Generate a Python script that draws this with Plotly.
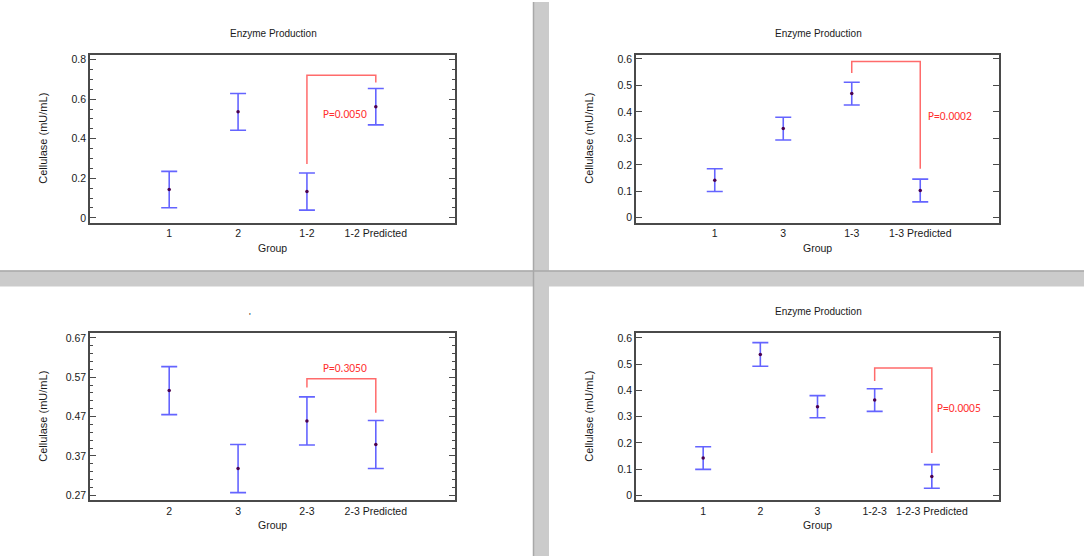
import plotly.graph_objects as go

W, H = 1084, 557

# panel data
tl_groups = ["1", "2", "1-2", "1-2 Predicted"]
tl_means = [0.143, 0.536, 0.133, 0.562]
tl_errors = [0.092, 0.093, 0.094, 0.092]
tl_bracket_y = [0.272, 0.721, 0.721, 0.684]
tl_p = "P=0.0050"

tr_groups = ["1", "3", "1-3", "1-3 Predicted"]
tr_means = [0.142, 0.337, 0.469, 0.103]
tr_errors = [0.043, 0.043, 0.043, 0.043]
tr_bracket_y = [0.547, 0.590, 0.590, 0.185]
tr_p = "P=0.0002"

bl_groups = ["2", "3", "2-3", "2-3 Predicted"]
bl_means = [0.536, 0.338, 0.459, 0.399]
bl_errors = [0.061, 0.061, 0.061, 0.061]
bl_bracket_y = [0.544, 0.566, 0.566, 0.480]
bl_p = "P=0.3050"

br_groups = ["1", "2", "3", "1-2-3", "1-2-3 Predicted"]
br_means = [0.142, 0.537, 0.338, 0.363, 0.072]
br_errors = [0.043, 0.045, 0.042, 0.043, 0.045]
br_bracket_y = [0.436, 0.485, 0.485, 0.161]
br_p = "P=0.0005"

title = "Enzyme Production"
y_title = "Cellulase (mU/mL)"
x_title = "Group"

FONT = "Liberation Sans Narrow, Arial Narrow, Liberation Sans, Arial"
PFONT = "Carlito, Lato, Open Sans, sans-serif"
AXIS_COL = "#4a4a4a"
ERR_COL = "#6464ff"
DOT_COL = "#4a0050"
RED_LINE = "#ff6b6b"
RED_TXT = "#ff3030"
TXT = "#1a1a1a"


def px(x):
    return x / W


def py(y):
    return 1 - y / H


def label(text, x, y, size, angle=0, color=TXT, family=FONT):
    fig.add_annotation(x=px(x), y=py(y), xref="paper", yref="paper", text=text,
                       showarrow=False, textangle=angle, xanchor="center", yanchor="middle",
                       font=dict(family=family, size=size, color=color))


fig = go.Figure()

panels = [
    # groups, means, errors, bracket, p text, p pos (cat index, y), box px, y axis setup
    (tl_groups, tl_means, tl_errors, tl_bracket_y, tl_p, (2.55, 0.527),
     (90, 455, 53, 222), dict(range=[-0.025, 0.825], dtick=0.2, tick0=0,
                              minor=dict(dtick=0.05, tick0=0, ticks="inside", ticklen=3,
                                         tickcolor=AXIS_COL))),
    (tr_groups, tr_means, tr_errors, tr_bracket_y, tr_p, (3.44, 0.386),
     (636, 999, 53, 222), dict(range=[-0.019, 0.616], dtick=0.1, tick0=0)),
    (bl_groups, bl_means, bl_errors, bl_bracket_y, bl_p, (2.556, 0.594),
     (90, 455, 333, 501), dict(range=[0.2574, 0.6818], dtick=0.1, tick0=0.27, tickformat=".2f",
                                minor=dict(dtick=0.02, tick0=0.27, ticks="inside", ticklen=3,
                                           tickcolor=AXIS_COL))),
    (br_groups, br_means, br_errors, br_bracket_y, br_p, (4.478, 0.3315),
     (636, 999, 333, 501), dict(range=[-0.019, 0.618], dtick=0.1, tick0=0)),
]

for i, (groups, means, errors, bracket, ptxt, ppos, box, yset) in enumerate(panels):
    n = i + 1
    xa = "x" if n == 1 else "x%d" % n
    ya = "y" if n == 1 else "y%d" % n
    pad = 1.15 if len(groups) == 4 else 1.175
    x0, x1, y0, y1 = box

    fig.add_trace(go.Scatter(
        x=groups, y=means, mode="markers", xaxis=xa, yaxis=ya,
        marker=dict(color=DOT_COL, size=3.5),
        error_y=dict(type="data", array=errors, visible=True, color=ERR_COL,
                     thickness=1.6, width=8),
        showlegend=False, hoverinfo="x+y"))

    fig.add_trace(go.Scatter(
        x=[groups[-2], groups[-2], groups[-1], groups[-1]], y=bracket,
        mode="lines", xaxis=xa, yaxis=ya, line=dict(color=RED_LINE, width=1.5),
        showlegend=False, hoverinfo="skip"))

    fig.add_annotation(x=ppos[0], y=ppos[1], xref=xa, yref=ya, text=ptxt,
                       showarrow=False, xanchor="center", yanchor="middle",
                       font=dict(family=PFONT, size=11.5, color=RED_TXT))

    fig.layout["xaxis" if n == 1 else "xaxis%d" % n] = dict(
        domain=[px(x0), px(x1)], anchor=ya, type="category",
        range=[-pad, len(groups) - 1 + pad], showline=True, mirror=True,
        linecolor=AXIS_COL, linewidth=1.5, ticks="", showgrid=False, zeroline=False,
        tickangle=0, tickfont=dict(family=FONT, size=10.5, color=TXT), fixedrange=True)

    yaxis = dict(domain=[py(y1), py(y0)], anchor=xa, showline=True, mirror="ticks",
                 linecolor=AXIS_COL, linewidth=1.5, ticks="inside", ticklen=6,
                 tickcolor=AXIS_COL, tickwidth=1.2, showgrid=False, zeroline=False,
                 tickfont=dict(family=FONT, size=10.5, color=TXT), fixedrange=True)
    yaxis.update(yset)
    fig.layout["yaxis" if n == 1 else "yaxis%d" % n] = yaxis

    # axis titles
    label(x_title, (x0 + x1) / 2, y1 + 25, 10.5)
    label(y_title, x0 - 47, (y0 + y1) / 2, 11, angle=-90)

# panel titles
label(title, 273, 32, 10)
label(title, 818, 32, 10)
label(title, 818, 311, 10)
label("'", 250, 316, 9)

# grey separators between the four panels
fig.add_shape(type="rect", xref="paper", yref="paper", x0=px(533), x1=px(549), y0=0, y1=1,
              fillcolor="#cbcbcb", line=dict(width=0), layer="below")
fig.add_shape(type="rect", xref="paper", yref="paper", x0=0, x1=1, y0=py(286), y1=py(270),
              fillcolor="#cbcbcb", line=dict(width=0), layer="below")
fig.add_shape(type="line", xref="paper", yref="paper", x0=px(533.5), x1=px(533.5), y0=0, y1=1,
              line=dict(color="#a8a8a8", width=1.5), layer="below")
fig.add_shape(type="line", xref="paper", yref="paper", x0=0, x1=1, y0=py(270.5), y1=py(270.5),
              line=dict(color="#a8a8a8", width=1.5), layer="below")

fig.update_layout(width=W, height=H, margin=dict(l=0, r=0, t=0, b=0),
                  paper_bgcolor="white", plot_bgcolor="white",
                  font=dict(family=FONT, size=10.5, color=TXT))

# drop the page's default body margin so the figure fills the window exactly
fig.write_html("out.html", config={"displayModeBar": False},
               post_script="document.body.style.margin='0';")
